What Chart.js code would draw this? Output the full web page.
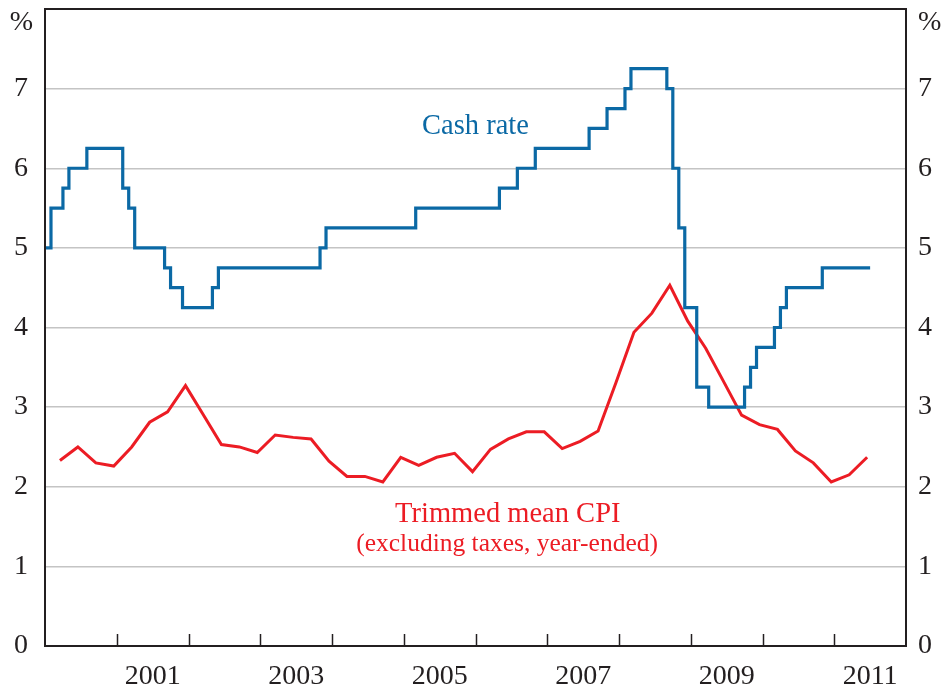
<!DOCTYPE html>
<html>
<head>
<meta charset="utf-8">
<script src="https://cdn.jsdelivr.net/npm/chart.js@4.4.1/dist/chart.umd.min.js"></script>
<style>
html, body { margin: 0; padding: 0; background: #fff; }
#wrap { width: 943px; height: 688px; }
</style>
</head>
<body>
<div id="wrap"><canvas id="chart" width="943" height="688"></canvas></div>
<script>
"use strict";

// cash rate: month the new level took effect, and the level (last entry = end of series)
const cashMonths = [
	"2000-01", "2000-02", "2000-04", "2000-05", "2000-08",
	"2001-02", "2001-03", "2001-04", "2001-09", "2001-10", "2001-12",
	"2002-05", "2002-06", "2003-11", "2003-12", "2005-03",
	"2006-05", "2006-08", "2006-11", "2007-08", "2007-11",
	"2008-02", "2008-03", "2008-09", "2008-10", "2008-11", "2008-12",
	"2009-02", "2009-04", "2009-10", "2009-11", "2009-12",
	"2010-03", "2010-04", "2010-05", "2010-11", "2011-07",
];
const cashRate = [
	5.0, 5.5, 5.75, 6.0, 6.25,
	5.75, 5.5, 5.0, 4.75, 4.5, 4.25,
	4.5, 4.75, 5.0, 5.25, 5.5,
	5.75, 6.0, 6.25, 6.5, 6.75,
	7.0, 7.25, 7.0, 6.0, 5.25, 4.25,
	3.25, 3.0, 3.25, 3.5, 3.75,
	4.0, 4.25, 4.5, 4.75, 4.75,
];

// trimmed mean CPI, year-ended, quarterly from 2000Q1 to 2011Q2
const cpiQuarters = [];
for (let y = 2000; y <= 2011; y++) {
	for (let q = 1; q <= 4; q++) {
		if (y === 2011 && q > 2) break;
		cpiQuarters.push(y + "Q" + q);
	}
}
const cpiTrimmed = [
	2.33, 2.50, 2.30, 2.26,
	2.50, 2.81, 2.94, 3.27,
	2.90, 2.53, 2.50, 2.43,
	2.65, 2.62, 2.60, 2.32,
	2.13, 2.13, 2.06, 2.37,
	2.27, 2.37, 2.42, 2.19,
	2.47, 2.60, 2.69, 2.69,
	2.48, 2.57, 2.70, 3.31,
	3.94, 4.18, 4.53, 4.08,
	3.74, 3.32, 2.90, 2.78,
	2.72, 2.45, 2.30, 2.06,
	2.15, 2.37,
];

const years = [2000, 2001, 2002, 2003, 2004, 2005, 2006, 2007, 2008, 2009, 2010, 2011];
const yearLabels = ["2001", "2003", "2005", "2007", "2009", "2011"];
const yTicks = [0, 1, 2, 3, 4, 5, 6, 7, 8];

const BLUE = "#0b69a5";
const RED = "#ec1c24";
const INK = "#231f20";
const SERIF = "'Liberation Serif', 'DejaVu Serif', serif";

function monthPos(m) {
	const [y, mo] = m.split("-").map(Number);
	return y + (mo - 1) / 12;
}
function quarterPos(q) {
	const [y, n] = q.split("Q").map(Number);
	// plotted mid of the quarter's last month
	return y + (3 * n - 0.5) / 12;
}

const decor = {
	id: "decor",
	afterDatasetsDraw(chart) {
		const { ctx, chartArea: a, scales } = chart;
		ctx.save();
		// year tick marks, pointing up into the plot
		ctx.strokeStyle = INK;
		ctx.lineWidth = 1.5;
		years.slice(1).forEach((y) => {
			const x = Math.round(scales.x.getPixelForValue(y)) + 0.5;
			ctx.beginPath();
			ctx.moveTo(x, a.bottom);
			ctx.lineTo(x, a.bottom - 12);
			ctx.stroke();
		});
		// frame
		ctx.lineWidth = 2;
		ctx.strokeRect(a.left, a.top, a.right - a.left, a.bottom - a.top);

		ctx.font = "28px " + SERIF;
		ctx.fillStyle = INK;
		ctx.textBaseline = "middle";
		ctx.textAlign = "right";
		ctx.fillText("%", a.left - 12, a.top + 14);
		ctx.textAlign = "left";
		ctx.fillText("%", a.right + 12, a.top + 14);

		ctx.textAlign = "center";
		ctx.fillStyle = BLUE;
		ctx.font = "28.5px " + SERIF;
		ctx.fillText("Cash rate", scales.x.getPixelForValue(2006.0), scales.y.getPixelForValue(6.52));
		ctx.fillStyle = RED;
		ctx.fillText("Trimmed mean CPI", scales.x.getPixelForValue(2006.45), scales.y.getPixelForValue(1.65));
		ctx.font = "25.5px " + SERIF;
		ctx.fillText("(excluding taxes, year-ended)", scales.x.getPixelForValue(2006.44), scales.y.getPixelForValue(1.28));
		ctx.restore();
	},
};

function yAxis(position, width, padding) {
	return {
		position,
		min: 0,
		max: 8,
		afterBuildTicks(s) {
			s.ticks = yTicks.map((v) => ({ value: v }));
		},
		afterFit(s) {
			s.width = width;
			s.paddingTop = 0;
			s.paddingBottom = 0;
		},
		border: { display: false },
		grid: position === "left"
			? {
				drawTicks: false,
				lineWidth: 1.5,
				color: (c) => (c.tick && c.tick.value > 0 && c.tick.value < 8 ? "#c4c4c4" : "rgba(0,0,0,0)"),
			}
			: { display: false, drawTicks: false },
		ticks: {
			padding,
			color: INK,
			font: { family: SERIF, size: 28 },
			callback: (v) => (v < 8 ? String(v) : ""),
		},
	};
}

new Chart(document.getElementById("chart"), {
	type: "line",
	data: {
		datasets: [
			{
				label: "Cash rate",
				data: cashMonths.map((m, i) => ({ x: monthPos(m), y: cashRate[i] })),
				stepped: true,
				borderColor: BLUE,
				borderWidth: 3.2,
				borderJoinStyle: "miter",
				pointRadius: 0,
				yAxisID: "y",
			},
			{
				label: "Trimmed mean CPI",
				data: cpiQuarters.map((q, i) => ({ x: quarterPos(q), y: cpiTrimmed[i] })),
				borderColor: RED,
				borderWidth: 3,
				tension: 0,
				pointRadius: 0,
				yAxisID: "y",
			},
		],
	},
	options: {
		responsive: false,
		animation: false,
		events: [],
		layout: { padding: { top: 9, left: 0, right: 0, bottom: 0 } },
		plugins: { legend: { display: false }, tooltip: { enabled: false } },
		scales: {
			x: {
				type: "linear",
				min: 2000,
				max: 2012,
				afterBuildTicks(s) {
					s.ticks = years.map((y) => ({ value: y + 0.5 }));
				},
				afterFit(s) {
					s.height = 42;
					s.paddingLeft = 0;
					s.paddingRight = 0;
				},
				border: { display: false },
				grid: { display: false, drawTicks: false },
				ticks: {
					autoSkip: false,
					maxRotation: 0,
					padding: 14,
					color: INK,
					font: { family: SERIF, size: 28 },
					callback: (v) => {
						const lab = String(Math.floor(v));
						return yearLabels.includes(lab) ? lab : "";
					},
				},
			},
			y: yAxis("left", 45, 17),
			y2: yAxis("right", 37, 12),
		},
	},
	plugins: [decor],
});
</script>
</body>
</html>
